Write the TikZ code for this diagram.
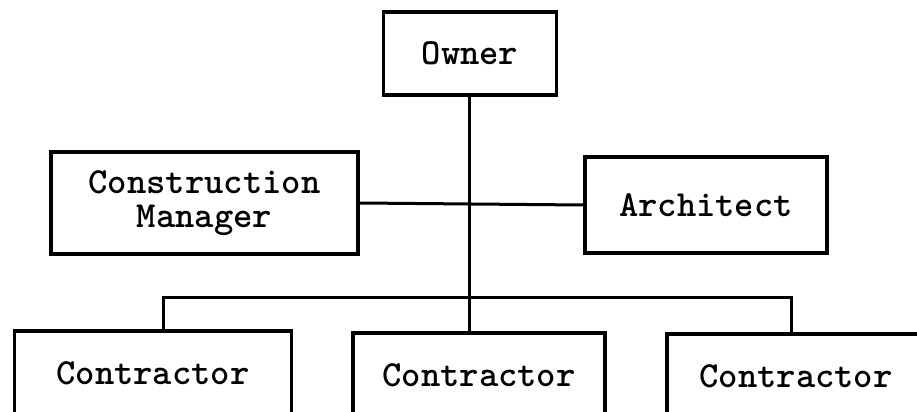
\documentclass[tikz,border=0pt]{standalone}
\usetikzlibrary{positioning}
\tikzstyle{block} = [rectangle, draw, line width=1.75pt, text centered, align=center, inner sep=0pt]
\tikzstyle{line} = [draw, line width=1.5pt]
\tikzstyle{every node}=[font=\ttfamily\bfseries\fontsize{18.4}{17}\selectfont]

\begin{document}
\begin{tikzpicture}[x=0.5pt, y=-0.5pt]
	\useasboundingbox (0,0) rectangle (917,412);
	\clip (0,0) rectangle (917,412);
	% Place nodes
	\node [block, minimum width=86.5pt, minimum height=41.5pt] (owner) at (470,53.5) {Owner};
	\node [block, minimum width=153.5pt, minimum height=51pt] (cm) at (204.5,203) {Construction\\Manager};
	\node [block, minimum width=121pt, minimum height=48pt] (arch) at (706,205) {Architect};
	\node [block, minimum width=138.5pt, minimum height=42pt] (c1) at (153,373) {Contractor};
	\node [block, minimum width=126pt, minimum height=42pt] (c2) at (479,375) {Contractor};
	\node [block, minimum width=129pt, minimum height=42pt] (c3) at (796,376) {Contractor};
	\coordinate (bus) at (469,297);
	% Draw edges
    \path [line] (owner.south -| bus) -- (bus |- c2.north);
    \path [line] (cm.east) -- (arch.west);
    \path [line] ([xshift=5pt]c1.north) |- (bus) -| ([xshift=-2.5pt]c3.north);
\end{tikzpicture}
\end{document}
